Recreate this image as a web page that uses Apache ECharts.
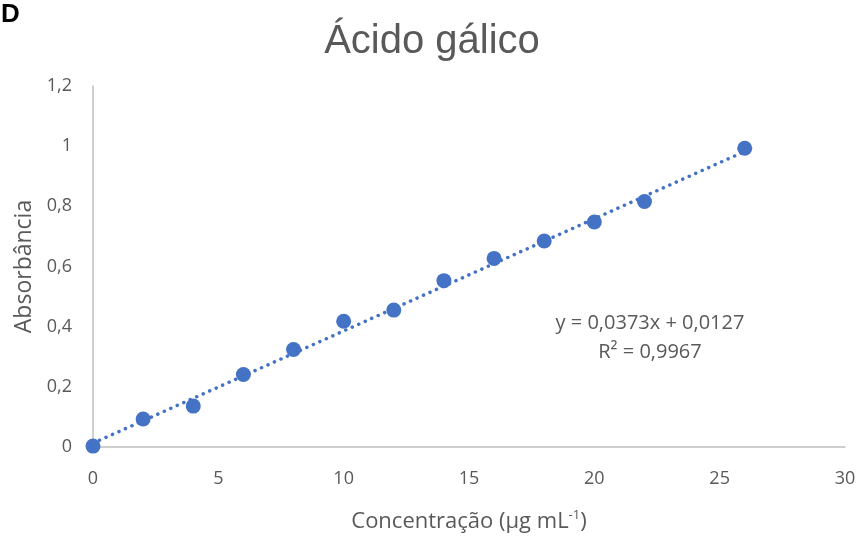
<!DOCTYPE html>
<html>
<head>
<meta charset="utf-8">
<script src="https://cdn.jsdelivr.net/npm/echarts@6/dist/echarts.min.js"></script>
<style>
  html, body { margin: 0; padding: 0; background: #fff; }
  #chart { width: 864px; height: 538px; }
</style>
</head>
<body>
<div id="chart"></div>
<script>
// concentração (µg/mL) e absorbância
var concentracao = [0, 2, 4, 6, 8, 10, 12, 14, 16, 18, 20, 22, 26];
var absorbancia = [0.003, 0.093, 0.136, 0.241, 0.324, 0.418, 0.455, 0.553, 0.627, 0.685, 0.748, 0.816, 0.993];

// linha de tendência (extremos)
var trendX = [0, 26];
var trendY = [0.0127, 0.9825];

var equacao = 'y = 0,0373x + 0,0127';
var r2 = 'R² = 0,9967';

var fonte = '"Open Sans", Lato, sans-serif';
var cinza = '#595959';
var azul = '#4472C4';

var myChart = echarts.init(document.getElementById('chart'));

function virgula(v) {
    return String(v).replace('.', ',');
}

myChart.setOption({
    animation: false,
    textStyle: { fontFamily: fonte },
    title: [
        {
            text: 'Ácido gálico',
            left: 'center',
            top: 17,
            textStyle: { fontFamily: '"Liberation Sans", Arial, sans-serif', fontSize: 40, fontWeight: 'normal', color: cinza }
        },
        {
            text: 'D',
            left: 1,
            top: 2,
            padding: 0,
            textStyle: { fontFamily: '"Liberation Sans", Arial, sans-serif', fontSize: 26, fontWeight: 'bold', color: '#000' }
        }
    ],
    grid: { left: 93, right: 19, top: 86, bottom: 89, containLabel: false },
    xAxis: {
        type: 'value',
        min: 0,
        max: 30,
        interval: 5,
        name: '{n|Concentração (µg mL}{s|-1}{n|)}',
        nameLocation: 'middle',
        nameGap: 62,
        nameTextStyle: {
            rich: {
                n: { fontFamily: fonte, fontSize: 22, color: cinza },
                s: { fontFamily: fonte, fontSize: 13, color: cinza, verticalAlign: 'top', padding: [0, 0, 13, 0] }
            }
        },
        axisLine: { show: true, lineStyle: { color: '#BFBFBF', width: 1.5 } },
        axisTick: { show: false },
        splitLine: { show: false },
        axisLabel: { fontFamily: fonte, fontSize: 18, color: cinza, margin: 23, formatter: virgula }
    },
    yAxis: {
        type: 'value',
        min: 0,
        max: 1.2,
        interval: 0.2,
        name: 'Absorbância',
        nameLocation: 'middle',
        nameGap: 57,
        nameTextStyle: { fontFamily: fonte, fontSize: 23, color: cinza },
        axisLine: { show: true, lineStyle: { color: '#BFBFBF', width: 1.5 } },
        axisTick: { show: false },
        splitLine: { show: false },
        axisLabel: {
            fontFamily: fonte,
            fontSize: 18,
            color: cinza,
            margin: 21,
            formatter: function (v) { return virgula(Math.round(v * 10) / 10); }
        }
    },
    series: [
        {
            type: 'line',
            data: trendX.map(function (x, i) { return [x, trendY[i]]; }),
            symbol: 'none',
            silent: true,
            z: 1,
            lineStyle: { color: azul, width: 3.5, type: [0.1, 7], cap: 'round' }
        },
        {
            type: 'scatter',
            data: concentracao.map(function (x, i) { return [x, absorbancia[i]]; }),
            symbol: 'circle',
            symbolSize: 15,
            z: 2,
            itemStyle: { color: azul, opacity: 1 }
        }
    ],
    graphic: [
        {
            type: 'text',
            x: 650,
            y: 323,
            style: { text: equacao, fontFamily: fonte, fontSize: 20, fill: cinza, align: 'center', verticalAlign: 'middle' }
        },
        {
            type: 'text',
            x: 650,
            y: 352,
            style: { text: r2, fontFamily: fonte, fontSize: 20, fill: cinza, align: 'center', verticalAlign: 'middle' }
        }
    ]
});
</script>
</body>
</html>
